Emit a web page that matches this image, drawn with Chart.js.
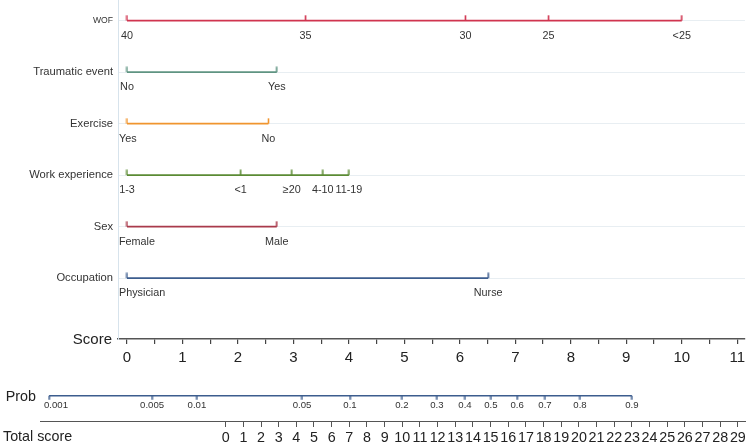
<!DOCTYPE html>
<html>
<head>
<meta charset="utf-8">
<script src="https://cdn.jsdelivr.net/npm/chart.js@4.4.1/dist/chart.umd.min.js"></script>
<style>
  body { margin: 0; background: #fff; }
  #top { position: absolute; left: 0; top: 0; width: 749px; height: 375px; }
  #bottom { position: absolute; left: 0; top: 375px; width: 749px; height: 73px; }
</style>
</head>
<body>
<div id="top"><canvas id="nomo"></canvas></div>
<div id="bottom"><canvas id="prob"></canvas></div>
<script>
// Rows of the nomogram (top to bottom)
const rows = ["WOF", "Traumatic event", "Exercise", "Work experience", "Sex", "Occupation"];
const rowColors = ["#d0344f", "#5f9482", "#f0952e", "#5b8b34", "#a93a4b", "#3c5d8e"];

// Points (score units) for each level
const wofLevels = ["40", "35", "30", "25", "<25"];
const wofScores = [0, 3.22, 6.1, 7.6, 10];
const traumaLevels = ["No", "Yes"];
const traumaScores = [0, 2.7];
const exerciseLevels = ["Yes", "No"];
const exerciseScores = [0, 2.55];
const workLevels = ["1-3", "<1", "≥20", "4-10", "11-19"];
const workScores = [0, 2.05, 2.97, 3.53, 4.0];
const sexLevels = ["Female", "Male"];
const sexScores = [0, 2.7];
const occLevels = ["Physician", "Nurse"];
const occScores = [0, 6.51];

// Score axis
const scoreTicks = [0, 0.5, 1, 1.5, 2, 2.5, 3, 3.5, 4, 4.5, 5, 5.5, 6, 6.5, 7, 7.5, 8, 8.5, 9, 9.5, 10, 10.5, 11];
const scoreLabels = [0, 1, 2, 3, 4, 5, 6, 7, 8, 9, 10, 11];

// Total score axis and probability positions (in total score units)
const totalTicks = [0, 1, 2, 3, 4, 5, 6, 7, 8, 9, 10, 11, 12, 13, 14, 15, 16, 17, 18, 19, 20, 21, 22, 23, 24, 25, 26, 27, 28, 29];
const probLabels = ["0.001", "0.005", "0.01", "0.05", "0.1", "0.2", "0.3", "0.4", "0.5", "0.6", "0.7", "0.8", "0.9"];
const probTotals = [-10.0, -4.17, -1.63, 4.32, 7.04, 9.98, 11.96, 13.55, 15.02, 16.5, 18.08, 20.06, 23.0];

const FONT = "'Liberation Sans', Arial, sans-serif";

function tickMark(color, up) {
    const c = document.createElement("canvas");
    c.width = 3; c.height = 12;
    const g = c.getContext("2d");
    g.strokeStyle = color;
    g.lineWidth = 1.6;
    g.beginPath();
    g.moveTo(1.5, up ? 0.5 : 6);
    g.lineTo(1.5, up ? 6 : 10);
    g.stroke();
    return c;
}

const levelSets = [
    [wofLevels, wofScores], [traumaLevels, traumaScores], [exerciseLevels, exerciseScores],
    [workLevels, workScores], [sexLevels, sexScores], [occLevels, occScores]
];

const topData = levelSets.map((set, i) => ({
    label: rows[i],
    levels: set[0],
    data: set[1].map(v => ({ x: v, y: i })),
    borderColor: rowColors[i],
    borderWidth: 1.8,
    pointStyle: tickMark(rowColors[i], true),
    pointRadius: 5,
    pointHoverRadius: 5,
    tension: 0
}));

// Draws level labels under each point
const levelText = {
    id: "levelText",
    afterDatasetsDraw(chart, args, opts) {
        const ctx = chart.ctx;
        ctx.save();
        ctx.fillStyle = "#333";
        ctx.font = opts.size + "px " + FONT;
        ctx.textBaseline = "middle";
        ctx.textAlign = "left";
        chart.data.datasets.forEach((ds, i) => {
            chart.getDatasetMeta(i).data.forEach((pt, j) => {
                const txt = ds.levels[j];
                const w = ctx.measureText(txt).width;
                const left = Math.max(pt.x - w / 2, chart.chartArea.left + opts.minGap);
                ctx.fillText(txt, left, pt.y + opts.dy);
            });
        });
        ctx.restore();
    }
};

const sideText = {
    id: "sideText",
    afterDraw(chart, args, opts) {
        const ctx = chart.ctx;
        ctx.save();
        ctx.fillStyle = "#222";
        ctx.textBaseline = "middle";
        opts.items.forEach(it => {
            ctx.font = it.size + "px " + FONT;
            ctx.textAlign = it.align;
            ctx.fillText(it.text, it.x, it.y(chart));
        });
        ctx.restore();
    }
};

new Chart(document.getElementById("nomo"), {
    type: "line",
    data: { datasets: topData },
    plugins: [levelText, sideText],
    options: {
        responsive: true,
        maintainAspectRatio: false,
        animation: false,
        layout: { autoPadding: false, padding: { left: 0, right: 4, top: 0, bottom: 0 } },
        plugins: {
            legend: { display: false },
            tooltip: { enabled: false },
            levelText: { size: 10.8, dy: 15, minGap: 1 },
            sideText: {
                items: [{ text: "Score", size: 15, align: "right", x: 112, y: c => c.scales.x.top + 1 }]
            }
        },
        scales: {
            x: {
                type: "linear",
                min: -0.162,
                max: 11.14,
                afterBuildTicks: s => { s.ticks = scoreTicks.map(v => ({ value: v })); },
                afterFit: s => { s.height = 36; s.paddingLeft = 0; s.paddingRight = 0; },
                ticks: {
                    autoSkip: false,
                    maxRotation: 0,
                    padding: 5,
                    color: "#222",
                    font: { size: 15, family: FONT },
                    callback: v => scoreLabels.includes(v) ? String(v) : ""
                },
                grid: { drawOnChartArea: false, tickLength: 5, color: "#444", lineWidth: 1.2 },
                border: { color: "#555", width: 1.5 }
            },
            y: {
                type: "linear",
                reverse: true,
                min: -0.4,
                max: 6.18,
                afterBuildTicks: s => { s.ticks = rows.map((r, i) => ({ value: i })); },
                afterFit: s => { s.width = 118; s.paddingTop = 0; s.paddingBottom = 0; },
                ticks: {
                    padding: 5,
                    color: "#333",
                    font: ctx => ({ size: ctx.index === 0 ? 8.6 : 11.2, family: FONT }),
                    callback: v => rows[v]
                },
                grid: { color: "#e8eef2", drawTicks: false, lineWidth: 1 },
                border: { color: "#d7e3ec", width: 1 }
            }
        }
    }
});

// Probability and total score panel
const probRowY = 0.55;
new Chart(document.getElementById("prob"), {
    type: "line",
    data: {
        datasets: [{
            label: "Prob",
            levels: probLabels,
            data: probTotals.map(v => ({ x: v, y: probRowY })),
            borderColor: "#3c5d8e",
            borderWidth: 1.5,
            pointStyle: tickMark("#3c5d8e", false),
            pointRadius: 5,
            pointHoverRadius: 5,
            tension: 0
        }]
    },
    plugins: [levelText, sideText],
    options: {
        responsive: true,
        maintainAspectRatio: false,
        animation: false,
        layout: { autoPadding: false, padding: { left: 40, right: 4, top: 0, bottom: 0 } },
        plugins: {
            legend: { display: false },
            tooltip: { enabled: false },
            levelText: { size: 9.6, dy: 10, minGap: 4 },
            sideText: {
                items: [
                    { text: "Prob", size: 14.3, align: "right", x: 36, y: c => c.scales.y.getPixelForValue(probRowY) + 1 },
                    { text: "Total score", size: 14.3, align: "left", x: 3, y: c => c.scales.x.top + 16 }
                ]
            }
        },
        scales: {
            x: {
                type: "linear",
                min: -10.515,
                max: 29.405,
                afterBuildTicks: s => { s.ticks = totalTicks.map(v => ({ value: v })); },
                afterFit: s => { s.height = 27; s.paddingLeft = 0; s.paddingRight = 0; },
                ticks: {
                    autoSkip: false,
                    maxRotation: 0,
                    padding: 2,
                    color: "#222",
                    font: { size: 14.3, family: FONT }
                },
                grid: { drawOnChartArea: false, tickLength: 6, color: "#555", lineWidth: 1 },
                border: { color: "#555", width: 1 }
            },
            y: { display: false, min: 0, max: 1 }
        }
    }
});
</script>
</body>
</html>
